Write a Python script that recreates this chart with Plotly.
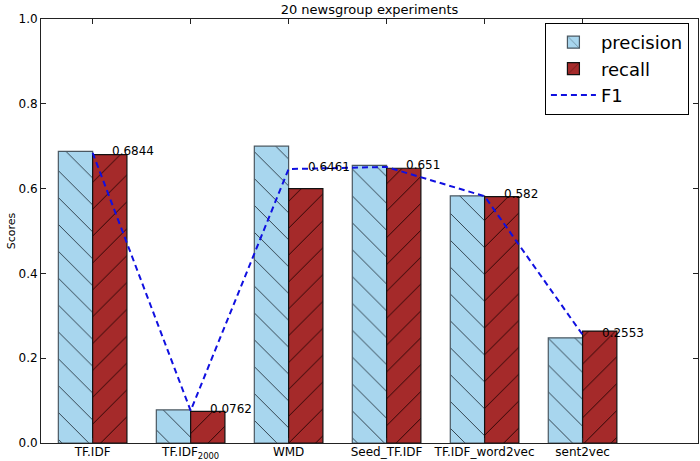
import plotly.graph_objects as go

categories = ["TF.IDF", "TF.IDF_2000", "WMD", "Seed_TF.IDF", "TF.IDF_word2vec", "sent2vec"]
tick_labels = ["TF.IDF", "TF.IDF<sub>2000</sub>", "WMD", "Seed_TF.IDF", "TF.IDF_word2vec", "sent2vec"]
precision = [0.688, 0.078, 0.700, 0.655, 0.583, 0.248]
recall = [0.680, 0.0745, 0.600, 0.648, 0.581, 0.264]
f1 = [0.6844, 0.0762, 0.6461, 0.651, 0.582, 0.2553]
f1_labels = ["0.6844", "0.0762", "0.6461", "0.651", "0.582", "0.2553"]

FONT = "DejaVu Sans"

fig = go.Figure()
fig.add_trace(go.Bar(
    x=categories, y=precision, name="precision",
    marker=dict(color="#a8d6ee", line=dict(color="#4a5862", width=1.2),
                pattern=dict(shape="\\", size=19, solidity=0.05, fgcolor="#1e2c36",
                             fgopacity=0.9, fillmode="overlay")),
))
fig.add_trace(go.Bar(
    x=categories, y=recall, name="recall",
    marker=dict(color="#a52a2a", line=dict(color="#111111", width=1.2),
                pattern=dict(shape="/", size=19, solidity=0.05, fgcolor="#1a0000",
                             fgopacity=0.9, fillmode="overlay")),
))
fig.add_trace(go.Scatter(
    x=categories, y=f1, name="F1", mode="lines",
    line=dict(color="#1010e0", width=2, dash="6px,4px"),
))

for c, v, t in zip(categories, f1, f1_labels):
    fig.add_annotation(x=c, y=v, text=t, showarrow=False, xanchor="left", yanchor="bottom",
                       xshift=17, yshift=-7, font=dict(family=FONT, size=12, color="black"))

fig.update_layout(
    width=700, height=461,
    margin=dict(l=41, r=2, t=19, b=18),
    paper_bgcolor="white", plot_bgcolor="white",
    barmode="group", bargap=0.3, bargroupgap=0,
    font=dict(family=FONT, size=12, color="black"),
    title=dict(text="20 newsgroup experiments", x=(41 + 698) / 2 / 700, xanchor="center",
               y=1, yref="container", yanchor="top", pad=dict(t=5),
               font=dict(family=FONT, size=13, color="black")),
    legend=dict(x=0.767, y=0.9906, xanchor="left", yanchor="top",
                bordercolor="black", borderwidth=1, bgcolor="white",
                font=dict(family=FONT, size=18, color="black"),
                itemwidth=45, tracegroupgap=0),
    showlegend=True,
)
fig.update_xaxes(
    range=[-0.527, 6.178], tickmode="array", tickvals=categories, ticktext=tick_labels,
    showline=True, linecolor="#222222", linewidth=1, mirror="ticks", automargin=False,
    ticks="inside", ticklen=5, tickcolor="#222222", showgrid=False, zeroline=False,
    ticklabelstandoff=-2,
    tickfont=dict(family=FONT, size=12, color="black"),
)
fig.update_yaxes(
    range=[0, 1], dtick=0.2, tickformat=".1f", automargin=False,
    title=dict(text="Scores", font=dict(family=FONT, size=11, color="black"), standoff=0),
    showline=True, linecolor="#222222", linewidth=1, mirror="ticks",
    ticks="inside", ticklen=5, tickcolor="#222222", showgrid=False, zeroline=False,
    tickfont=dict(family=FONT, size=12, color="black"),
)

fig.write_html("out.html", config={"displayModeBar": False},
               post_script="document.body.style.margin='0';")
